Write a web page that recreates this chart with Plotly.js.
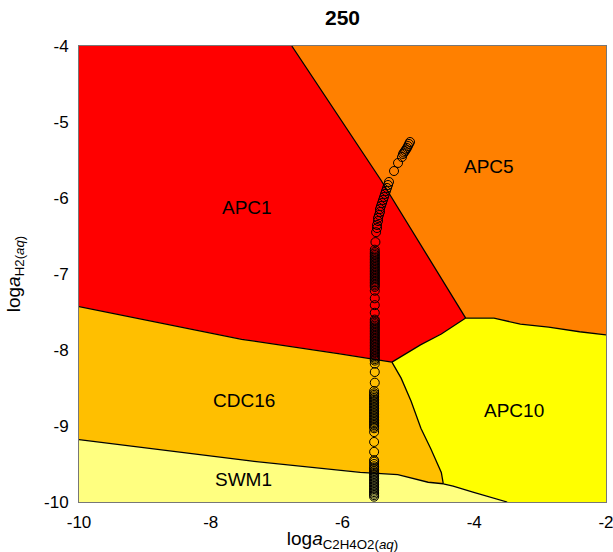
<!DOCTYPE html>
<html>
<head>
<meta charset="utf-8">
<script src="https://cdn.plot.ly/plotly-3.0.1.min.js"></script>
<style>html,body{margin:0;padding:0;background:#fff;}</style>
</head>
<body>
<div id="chart" style="width:613px;height:552px;"></div>
<script>
// ---- axes ----
const xRange = [-10, -2];
const yRange = [-10, -4];
const xTickVals = [-10, -8, -6, -4, -2];
const yTickVals = [-4, -5, -6, -7, -8, -9, -10];

// ---- field names and colours ----
const species = ["APC1", "APC5", "CDC16", "APC10", "SWM1"];
const speciesColors = ["#FF0000", "#FF8000", "#FFBF00", "#FFFF00", "#FFFF80"];
const labelX = [-7.45, -3.78, -7.50, -3.40, -7.50];
const labelY = [-6.12, -5.59, -8.67, -8.79, -9.71];

// ---- boundary lines ----
const bAPC1_APC5_x = [-6.77, -5.42, -4.13];
const bAPC1_APC5_y = [-4.00, -5.76, -7.58];
const bAPC5_APC10_x = [-4.13, -3.70, -3.30, -2.87, -2.40, -2.00];
const bAPC5_APC10_y = [-7.58, -7.58, -7.66, -7.70, -7.76, -7.80];
const bAPC1_APC10_x = [-4.13, -4.50, -4.81, -5.05, -5.25];
const bAPC1_APC10_y = [-7.58, -7.79, -7.93, -8.06, -8.16];
const bAPC1_CDC16_x = [-10.0, -8.16, -7.53, -6.04, -5.25];
const bAPC1_CDC16_y = [-7.43, -7.75, -7.86, -8.05, -8.16];
const bCDC16_APC10_x = [-5.25, -5.11, -4.96, -4.81, -4.66, -4.50, -4.47];
const bCDC16_APC10_y = [-8.16, -8.37, -8.67, -9.03, -9.30, -9.61, -9.76];
const bCDC16_SWM1_x = [-10.0, -7.40, -5.73, -5.16, -4.70, -4.47];
const bCDC16_SWM1_y = [-9.18, -9.46, -9.61, -9.64, -9.74, -9.76];
const bAPC10_SWM1_x = [-4.47, -4.32, -4.02, -3.76, -3.50];
const bAPC10_SWM1_y = [-9.76, -9.79, -9.87, -9.93, -10.0];

// ---- path of points (open circles) ----
const pathX = [
 -5.52,-5.52,-5.52,-5.52,-5.52,-5.52,-5.52,-5.52,-5.52,-5.52,-5.52,-5.52,-5.52,-5.52,-5.52,-5.52,-5.52,-5.52,-5.52,-5.52,-5.52,-5.52,-5.52,-5.52,
 -5.52,-5.52,-5.52,
 -5.52,-5.52,-5.52,-5.52,-5.52,-5.52,-5.52,-5.52,-5.52,-5.52,-5.52,-5.52,-5.52,-5.52,-5.52,-5.52,-5.52,-5.52,-5.52,-5.52,-5.52,-5.52,-5.52,-5.52,-5.52,
 -5.51,-5.51,-5.51,
 -5.51,-5.51,-5.51,-5.51,-5.51,-5.51,-5.51,-5.51,-5.51,-5.51,-5.51,-5.51,-5.51,-5.51,-5.51,-5.51,-5.51,-5.51,-5.51,-5.51,-5.51,-5.51,-5.51,-5.51,-5.51,-5.51,-5.51,-5.51,
 -5.51,-5.51,-5.51,-5.51,
 -5.51,-5.51,-5.51,-5.51,-5.51,-5.51,-5.51,-5.51,-5.51,-5.51,-5.51,-5.51,-5.51,-5.51,-5.51,-5.51,-5.51,-5.51,-5.51,-5.51,-5.51,-5.51,-5.51,-5.51,-5.51,
 -5.50,-5.49,
 -5.476,-5.476,-5.461,-5.461,-5.446,-5.431,-5.431,-5.416,-5.400,-5.385,-5.370,-5.355,-5.340,-5.324,-5.309,-5.294,
 -5.218,-5.157,-5.097,
 -5.082,-5.067,-5.051,-5.036,-5.021,-5.006,-4.991,-4.975
];
const pathY = [
 -9.93,-9.91,-9.89,-9.87,-9.85,-9.83,-9.81,-9.79,-9.77,-9.75,-9.73,-9.71,-9.69,-9.67,-9.65,-9.63,-9.61,-9.59,-9.57,-9.55,-9.53,-9.50,-9.47,-9.45,
 -9.34,-9.21,-9.08,
 -9.03,-9.01,-8.99,-8.97,-8.95,-8.93,-8.91,-8.89,-8.87,-8.85,-8.83,-8.81,-8.79,-8.77,-8.75,-8.73,-8.71,-8.69,-8.67,-8.65,-8.63,-8.61,-8.59,-8.57,-8.54,
 -8.43,-8.29,-8.18,
 -8.14,-8.12,-8.10,-8.08,-8.06,-8.04,-8.02,-8.00,-7.98,-7.96,-7.94,-7.92,-7.90,-7.88,-7.86,-7.84,-7.82,-7.80,-7.78,-7.76,-7.74,-7.72,-7.70,-7.68,-7.66,-7.64,-7.62,-7.60,
 -7.51,-7.41,-7.32,-7.22,
 -7.17,-7.15,-7.13,-7.11,-7.09,-7.07,-7.05,-7.03,-7.01,-6.99,-6.97,-6.95,-6.93,-6.91,-6.89,-6.87,-6.85,-6.83,-6.81,-6.79,-6.77,-6.75,-6.73,-6.71,-6.68,
 -6.58,-6.45,
 -6.395,-6.355,-6.303,-6.263,-6.224,-6.184,-6.145,-6.105,-6.066,-6.026,-5.987,-5.947,-5.908,-5.868,-5.829,-5.789,
 -5.645,-5.539,-5.461,
 -5.421,-5.401,-5.382,-5.362,-5.342,-5.316,-5.289,-5.263
];

// ---- build region polygons from the boundaries ----
const rev = a => a.slice().reverse();
const polys = [
  { // APC1
    x: [xRange[0], ...bAPC1_APC5_x, ...bAPC1_APC10_x.slice(1), ...rev(bAPC1_CDC16_x).slice(1)],
    y: [yRange[1], ...bAPC1_APC5_y, ...bAPC1_APC10_y.slice(1), ...rev(bAPC1_CDC16_y).slice(1)]
  },
  { // APC5
    x: [...bAPC1_APC5_x, ...bAPC5_APC10_x.slice(1), xRange[1]],
    y: [...bAPC1_APC5_y, ...bAPC5_APC10_y.slice(1), yRange[1]]
  },
  { // CDC16
    x: [...bAPC1_CDC16_x, ...bCDC16_APC10_x.slice(1), ...rev(bCDC16_SWM1_x).slice(1)],
    y: [...bAPC1_CDC16_y, ...bCDC16_APC10_y.slice(1), ...rev(bCDC16_SWM1_y).slice(1)]
  },
  { // APC10
    x: [...bAPC5_APC10_x, xRange[1], ...rev(bAPC10_SWM1_x), ...rev(bCDC16_APC10_x).slice(1), ...rev(bAPC1_APC10_x).slice(1)],
    y: [...bAPC5_APC10_y, yRange[0], ...rev(bAPC10_SWM1_y), ...rev(bCDC16_APC10_y).slice(1), ...rev(bAPC1_APC10_y).slice(1)]
  },
  { // SWM1
    x: [...bCDC16_SWM1_x, ...bAPC10_SWM1_x.slice(1), xRange[0]],
    y: [...bCDC16_SWM1_y, ...bAPC10_SWM1_y.slice(1), yRange[0]]
  }
];

const traces = [];
polys.forEach((p, i) => {
  traces.push({
    type: 'scatter', mode: 'lines', x: p.x, y: p.y, fill: 'toself',
    fillcolor: speciesColors[i], line: {width: 0.5, color: speciesColors[i]},
    hoverinfo: 'skip', showlegend: false
  });
});
const lines = [
  [bAPC1_APC5_x, bAPC1_APC5_y], [bAPC5_APC10_x, bAPC5_APC10_y], [bAPC1_APC10_x, bAPC1_APC10_y],
  [bAPC1_CDC16_x, bAPC1_CDC16_y], [bCDC16_APC10_x, bCDC16_APC10_y], [bCDC16_SWM1_x, bCDC16_SWM1_y],
  [bAPC10_SWM1_x, bAPC10_SWM1_y]
];
lines.forEach(l => {
  traces.push({type: 'scatter', mode: 'lines', x: l[0], y: l[1],
    line: {color: '#000', width: 1.3}, hoverinfo: 'skip', showlegend: false});
});
traces.push({
  type: 'scatter', mode: 'markers', x: pathX, y: pathY,
  marker: {symbol: 'circle-open', size: 9, color: '#000', line: {width: 1}},
  hoverinfo: 'skip', showlegend: false
});

const font = 'Liberation Sans, Arial, Helvetica, sans-serif';
const layout = {
  width: 613, height: 552,
  margin: {l: 79, r: 7, t: 46, b: 50},
  paper_bgcolor: '#fff', plot_bgcolor: '#fff',
  font: {family: font, size: 17, color: '#000'},
  title: {text: '<b>250</b>', x: 0.5, xref: 'paper', y: 1 - 18/552, yref: 'container', yanchor: 'middle',
          font: {family: font, size: 21, color: '#000'}},
  xaxis: {range: xRange, tickvals: xTickVals, ticktext: xTickVals.map(String), ticks: '', showgrid: false,
          zeroline: false, showline: true, mirror: true, linecolor: '#777', linewidth: 1,
          tickfont: {size: 17}, ticklabelstandoff: 5, ticklabeloverflow: 'allow',
          title: {text: 'log<i>a</i><sub>C2H4O2(<i>aq</i>)</sub>', font: {size: 19}, standoff: 2}},
  yaxis: {range: yRange, tickvals: yTickVals, ticktext: yTickVals.map(String), ticks: '', showgrid: false,
          zeroline: false, showline: true, mirror: true, linecolor: '#777', linewidth: 1,
          tickfont: {size: 17}, ticklabelstandoff: 6, ticklabeloverflow: 'allow',
          title: {text: 'log<i>a</i><sub>H2(<i>aq</i>)</sub>', font: {size: 19}, standoff: 18}},
  annotations: species.map((s, i) => ({x: labelX[i], y: labelY[i], text: s, showarrow: false,
                 font: {size: 19, family: font, color: '#000'}})),
  showlegend: false
};
Plotly.newPlot('chart', traces, layout, {staticPlot: true, displayModeBar: false});
</script>
</body>
</html>
